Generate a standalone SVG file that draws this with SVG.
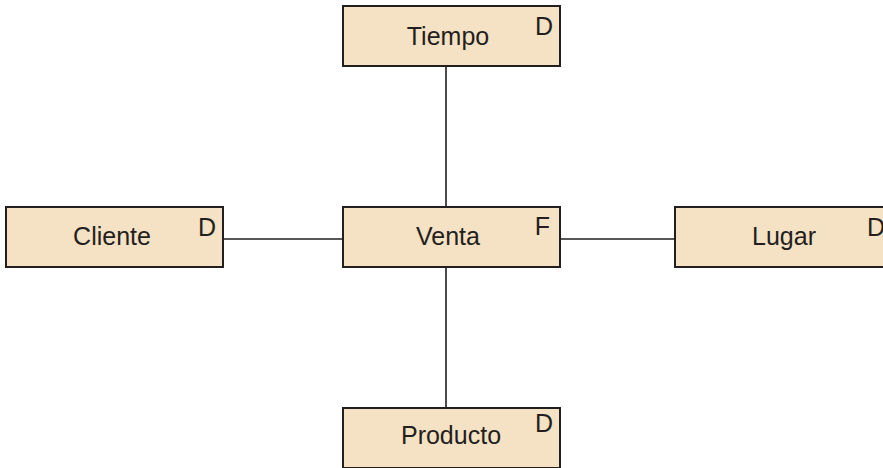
<svg xmlns="http://www.w3.org/2000/svg" width="883" height="468" viewBox="0 0 883 468">
<style>
.box{fill:#F5E1C3;stroke:#231F20;stroke-width:2}
.lbl{font-family:"Liberation Sans",Arial,sans-serif;font-size:25px;fill:#231F20;text-anchor:middle}
.tag{font-family:"Liberation Sans",Arial,sans-serif;font-size:25px;fill:#231F20;text-anchor:end}
.conn{stroke:#231F20;stroke-width:1.6;fill:none}
</style>
<rect width="883" height="468" fill="#FFFFFF"/>
<g id="connectors">
<line class="conn" x1="446" y1="66" x2="446" y2="207"/>
<line class="conn" x1="446" y1="267" x2="446" y2="408"/>
<line class="conn" x1="223" y1="239" x2="343" y2="239"/>
<line class="conn" x1="560" y1="239" x2="675" y2="239"/>
</g>
<g id="tiempo">
<rect class="box" x="343" y="6" width="217" height="60"/>
<text class="lbl" x="448" y="45">Tiempo</text>
<text class="tag" x="553" y="35">D</text>
</g>
<g id="cliente">
<rect class="box" x="6" y="207" width="217" height="60"/>
<text class="lbl" x="112" y="245">Cliente</text>
<text class="tag" x="216" y="236">D</text>
</g>
<g id="venta">
<rect class="box" x="343" y="207" width="217" height="60"/>
<text class="lbl" x="448" y="245">Venta</text>
<text class="tag" x="550" y="235">F</text>
</g>
<g id="lugar">
<rect class="box" x="675" y="207" width="217" height="60"/>
<text class="lbl" x="784" y="245">Lugar</text>
<text class="tag" x="885" y="236">D</text>
</g>
<g id="producto">
<rect class="box" x="343" y="408" width="217" height="60"/>
<text class="lbl" x="451" y="444">Producto</text>
<text class="tag" x="553" y="432">D</text>
</g>
</svg>
